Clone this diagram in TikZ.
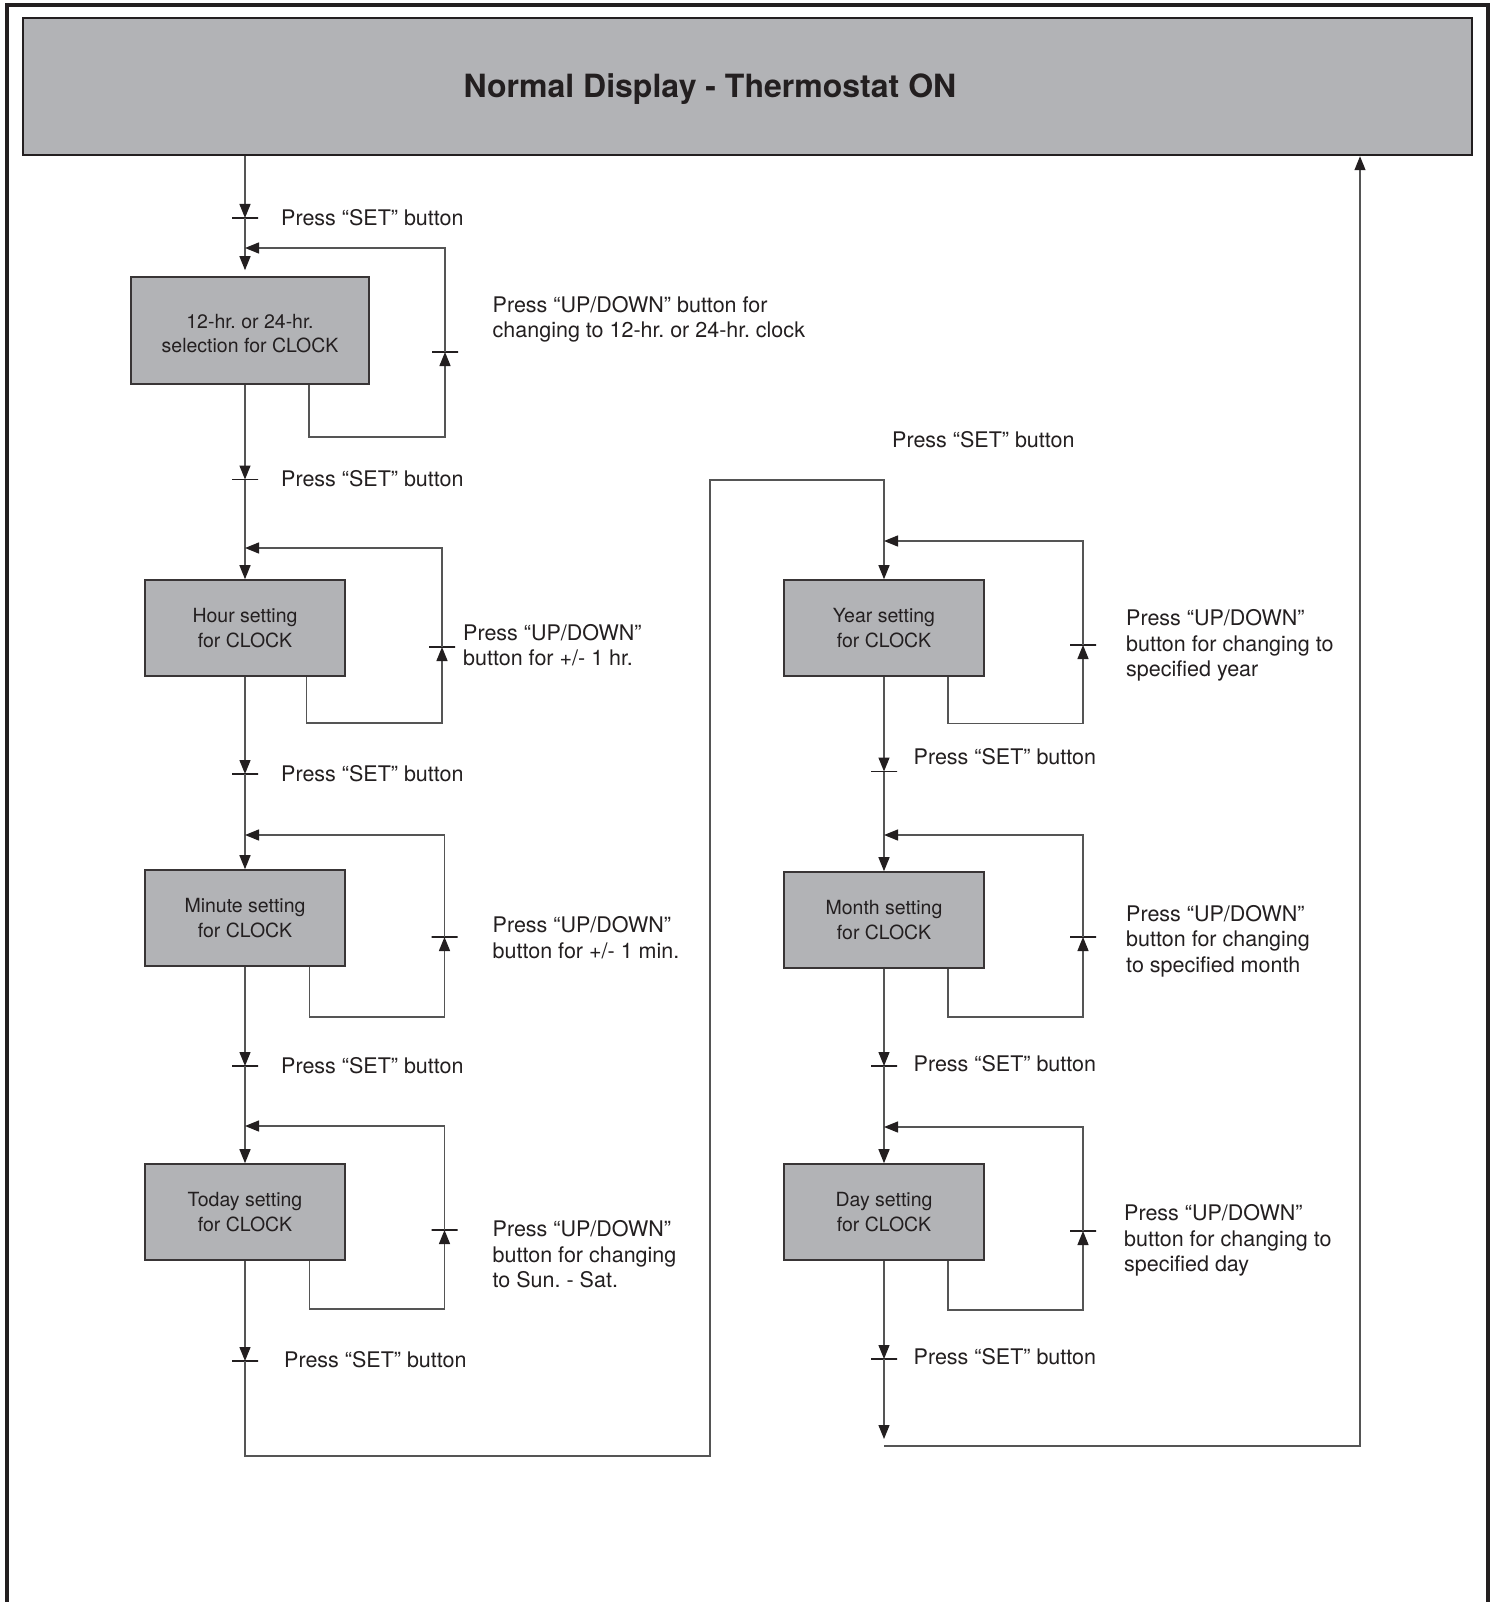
\documentclass[tikz,border=0pt]{standalone}
\usepackage{fontspec}
\setmainfont{TeX Gyre Heros}
\usetikzlibrary{arrows.meta,calc}
\definecolor{boxgray}{HTML}{B2B3B6}
\definecolor{ink}{HTML}{231F20}
\definecolor{wire}{HTML}{555555}
\newcommand\boxlines[2]{\raisebox{-#1}[\height][\depth]{\begin{tabular}{@{}c@{}}#2\end{tabular}}}
\tikzset{
  conn/.style={draw=wire,line width=1.3pt},
  arr/.style={-{Triangle[length=14pt,width=11pt,color=ink]}},
  stepbox/.style={draw=ink!90,line width=1.6pt,fill=boxgray,minimum width=200pt,minimum height=96pt,inner sep=0pt,
    align=center,text=ink,font=\fontsize{19.5}{25}\selectfont},
  tickbar/.style={draw=ink,line width=1.5pt,shape=rectangle,minimum width=26pt,minimum height=0pt,inner sep=0pt},
  lbl/.style={anchor=west,align=left,inner sep=0pt,text=ink,font=\fontsize{21.5}{25.5}\selectfont},
}
\frenchspacing
\begin{document}
\begin{tikzpicture}[x=1pt,y=-1pt]
\useasboundingbox (0,0) rectangle (1496,1602);
\fill[white] (0,0) rectangle (1496,1602);
% outer frame
\draw[line width=4pt,draw=ink] (7,1604) -- (7,5) -- (1488,5) -- (1488,1604);
% title box
\node[draw=ink,line width=2.5pt,fill=boxgray,minimum width=1449pt,minimum height=137pt,inner sep=0pt] (top) at (747.5,86.5) {};
\node[text=ink,font=\fontsize{32}{38}\selectfont\bfseries] (title) at (710,89) {Normal Display - Thermostat ON};

% left column boxes
\node[stepbox,minimum width=238pt,minimum height=107pt] (b1) at (250,330.5) {\boxlines{5pt}{12-hr. or 24-hr.\\selection for CLOCK}};
\node[stepbox] (b2) at (245,628) {\boxlines{2pt}{Hour setting\\for CLOCK}};
\node[stepbox] (b3) at (245,918) {\boxlines{2pt}{Minute setting\\for CLOCK}};
\node[stepbox] (b4) at (245,1212) {\boxlines{2pt}{Today setting\\for CLOCK}};
% right column boxes
\node[stepbox] (yr) at (884,628) {\boxlines{2pt}{Year setting\\for CLOCK}};
\node[stepbox] (mo) at (884,920) {\boxlines{1.5pt}{Month setting\\for CLOCK}};
\node[stepbox] (dy) at (884,1212) {\boxlines{1.5pt}{Day setting\\for CLOCK}};

% ticks on main lines
\node[tickbar] (t1) at (245,218) {};
\node[tickbar] (t2) at (245,479.5) {};
\node[tickbar] (t3) at (245,774) {};
\node[tickbar] (t4) at (245,1066) {};
\node[tickbar] (t5) at (245,1361) {};
\node[tickbar] (tY) at (884,771.5) {};
\node[tickbar] (tM) at (884,1066) {};
\node[tickbar] (tD) at (884,1359) {};
% ticks on feedback loops
\node[tickbar] (u1) at (445,352) {};
\node[tickbar] (u2) at (442,647) {};
\node[tickbar] (u3) at (444.5,937) {};
\node[tickbar] (u4) at (444.5,1230) {};
\node[tickbar] (uY) at (1083,645) {};
\node[tickbar] (uM) at (1083,937) {};
\node[tickbar] (uD) at (1083,1231) {};

% merge points and corners
\coordinate (m1) at (245,248);
\coordinate (m2) at (245,548);
\coordinate (m3) at (245,835);
\coordinate (m4) at (245,1126);
\coordinate (mY) at (884,541);
\coordinate (mM) at (884,835);
\coordinate (mD) at (884,1127);
\coordinate (l1) at (445,437);
\coordinate (l2) at (442,723);
\coordinate (l3) at (444.5,1017);
\coordinate (l4) at (444.5,1309);
\coordinate (lY) at (1083,723.5);
\coordinate (lM) at (1083,1017);
\coordinate (lD) at (1083,1310);
\coordinate (cA) at (710,1456);
\coordinate (cB) at (710,480);
\coordinate (endT) at (884,1439);
\coordinate (cC) at (884,1446);
\coordinate (cD) at (1360,1446);

% labels
\node[lbl] (s1) at (281,218) {Press “SET” button};
\node[lbl] (s2) at (281,479) {Press “SET” button};
\node[lbl] (s3) at (281,774) {Press “SET” button};
\node[lbl] (s4) at (281,1066) {Press “SET” button};
\node[lbl] (s5) at (284,1360) {Press “SET” button};
\node[lbl] (sR) at (892,439.5) {Press “SET” button};
\node[lbl] (sY) at (913.5,757) {Press “SET” button};
\node[lbl] (sM) at (913.5,1064) {Press “SET” button};
\node[lbl] (sD) at (913.5,1357) {Press “SET” button};
\node[lbl] (p1) at (492.5,319.5) {Press “UP/DOWN” button for\\changing to 12-hr. or 24-hr. clock};
\node[lbl] (p2) at (463,645) {Press “UP/DOWN”\\button for +/- 1 hr.};
\node[lbl] (p3) at (492.5,937.5) {Press “UP/DOWN”\\button for +/- 1 min.};
\node[lbl] (p4) at (492.5,1254.5) {Press “UP/DOWN”\\button for changing\\to Sun. - Sat.};
\node[lbl] (pY) at (1126,645.5) {Press “UP/DOWN”\\button for changing to\\specified year};
\node[lbl] (pM) at (1126,941) {Press “UP/DOWN”\\button for changing\\to specified month};
\node[lbl] (pD) at (1124,1240.5) {Press “UP/DOWN”\\button for changing to\\specified day};

% left main flow
\draw[conn,arr] (top.south -| t1) -- (t1.center);
\draw[conn,arr,shorten >=6pt] (t1.center) -- (t1 |- b1.north);
\draw[conn,arr] (t1 |- b1.south) -- (t2.center);
\draw[conn,arr] (t2.center) -- (t2 |- b2.north);
\draw[conn,arr] (b2.south) -- (t3.center);
\draw[conn,arr] (t3.center) -- (b3.north);
\draw[conn,arr] (b3.south) -- (t4.center);
\draw[conn,arr] (t4.center) -- (b4.north);
\draw[conn,arr] (b4.south) -- (t5.center);
% feedback loops left
\draw[conn,arr] ([xshift=59pt]b1.south) |- (l1) -- (u1.center);
\draw[conn,arr] (u1.center) |- (m1);
\draw[conn,arr] ([xshift=61.6pt]b2.south) |- (l2) -- (u2.center);
\draw[conn,arr] (u2.center) |- (m2);
\draw[conn,arr] ([xshift=64.6pt]b3.south) |- (l3) -- (u3.center);
\draw[conn,arr] (u3.center) |- (m3);
\draw[conn,arr] ([xshift=64.6pt]b4.south) |- (l4) -- (u4.center);
\draw[conn,arr] (u4.center) |- (m4);
% crossover to right column
\draw[conn,arr] (t5.center) |- (cA) -- (cB) -| (yr.north);
% right main flow
\draw[conn,arr] (yr.south) -- (tY.center);
\draw[conn,arr] (tY.center) -- (mo.north);
\draw[conn,arr] (mo.south) -- (tM.center);
\draw[conn,arr] (tM.center) -- (dy.north);
\draw[conn,arr] (dy.south) -- (tD.center);
\draw[conn,arr] (tD.center) -- (endT);
\draw[conn,arr] (cC) -| (top.south -| cD);
% feedback loops right
\draw[conn,arr] ([xshift=64pt]yr.south) |- (lY) -- (uY.center);
\draw[conn,arr] (uY.center) |- (mY);
\draw[conn,arr] ([xshift=64pt]mo.south) |- (lM) -- (uM.center);
\draw[conn,arr] (uM.center) |- (mM);
\draw[conn,arr] ([xshift=64pt]dy.south) |- (lD) -- (uD.center);
\draw[conn,arr] (uD.center) |- (mD);
\end{tikzpicture}
\end{document}
